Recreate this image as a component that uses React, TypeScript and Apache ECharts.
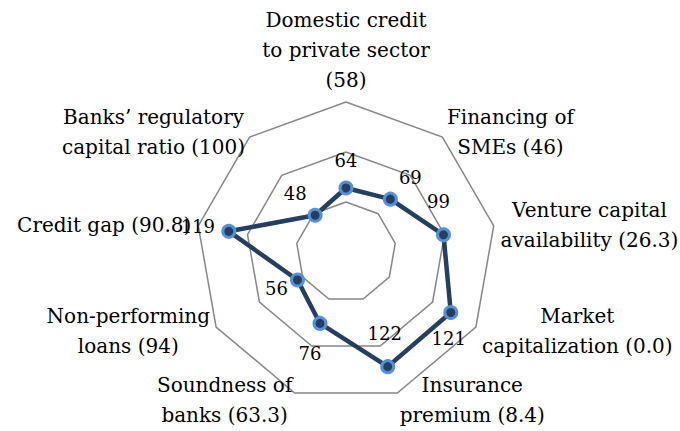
import React, { useEffect, useRef } from "react";
import * as echarts from "echarts";

// Indicators in clockwise order, starting at the top
const indicatorNames = [
  "Domestic credit\nto private sector\n(58)",
  "Financing of\nSMEs (46)",
  "Venture capital\navailability (26.3)",
  "Market\ncapitalization (0.0)",
  "Insurance\npremium (8.4)",
  "Soundness of\nbanks (63.3)",
  "Non-performing\nloans (94)",
  "Credit gap (90.8)",
  "Banks\u2019 regulatory\ncapital ratio (100)",
];
const seriesValues = [64, 69, 99, 121, 122, 76, 56, 119, 48];
const axisMax = 150;

// label placement (style only), same clockwise order
const labelOffsets: [number, number][] = [
  [0, -28],
  [20, -22],
  [-5, -33],
  [-2, 26],
  [-3, -33],
  [-10, 30],
  [-21, 8],
  [-31, -5],
  [-20, -22],
];

const FONT = "DejaVu Serif";

export default function App() {
  const ref = useRef<HTMLDivElement>(null);
  useEffect(() => {
    if (!ref.current) return;
    const chart = echarts.init(ref.current, undefined, { renderer: "svg" });
    const n = indicatorNames.length;
    // ECharts radar lays indicators counter-clockwise; reorder to get clockwise reading
    const order = [0, ...Array.from({ length: n - 1 }, (_, i) => n - 1 - i)];
    const center = [346, 252];
    const radius = 150;
    chart.setOption({
      animation: false,
      backgroundColor: "#ffffff",
      radar: {
        center,
        radius,
        startAngle: 90,
        splitNumber: 3,
        shape: "polygon",
        nameGap: 7,
        axisName: {
          color: "#000",
          fontFamily: FONT,
          fontSize: 20,
          lineHeight: 30,
          formatter: (name: string) =>
            name
              .split("\n")
              .map((l) => `{c|${l}}`)
              .join("\n"),
          rich: {
            c: {
              align: "center",
              fontFamily: FONT,
              fontSize: 20,
              lineHeight: 30,
              color: "#000",
            },
          },
        },
        axisLine: { show: false },
        axisTick: { show: false },
        axisLabel: { show: false },
        splitLine: { lineStyle: { color: "#878787", width: 1.5 } },
        splitArea: { show: false },
        indicator: order.map((i) => ({ name: indicatorNames[i], min: 0, max: axisMax })),
      },
      polar: { center, radius },
      angleAxis: {
        type: "value",
        min: 0,
        max: 360,
        startAngle: 90,
        clockwise: true,
        show: false,
        axisLine: { show: false },
        axisLabel: { show: false },
        axisTick: { show: false },
        splitLine: { show: false },
      },
      radiusAxis: {
        type: "value",
        min: 0,
        max: axisMax,
        show: false,
        axisLine: { show: false },
        axisLabel: { show: false },
        axisTick: { show: false },
        splitLine: { show: false },
      },
      series: [
        {
          type: "radar",
          symbol: "circle",
          symbolSize: 12,
          lineStyle: { color: "#243F60", width: 4.5 },
          itemStyle: { color: "#243F60", borderColor: "#5590D9", borderWidth: 3 },
          data: [{ value: order.map((i) => seriesValues[i]) }],
          z: 2,
        },
        {
          type: "scatter",
          coordinateSystem: "polar",
          symbolSize: 0,
          silent: true,
          z: 3,
          itemStyle: { opacity: 1 },
          label: {
            show: true,
            position: "inside",
            fontFamily: FONT,
            fontSize: 18,
            color: "#000",
            textBorderWidth: 0,
            formatter: (p: any) => String(p.value[0]),
          },
          data: seriesValues.map((v, k) => ({
            value: [v, (k * 360) / n],
            label: { offset: labelOffsets[k] },
          })),
        },
      ],
    });
    return () => chart.dispose();
  }, []);
  return (
    <div
      ref={ref}
      style={{ position: "fixed", left: 0, top: 0, width: 680, height: 431, background: "#fff" }}
    />
  );
}
